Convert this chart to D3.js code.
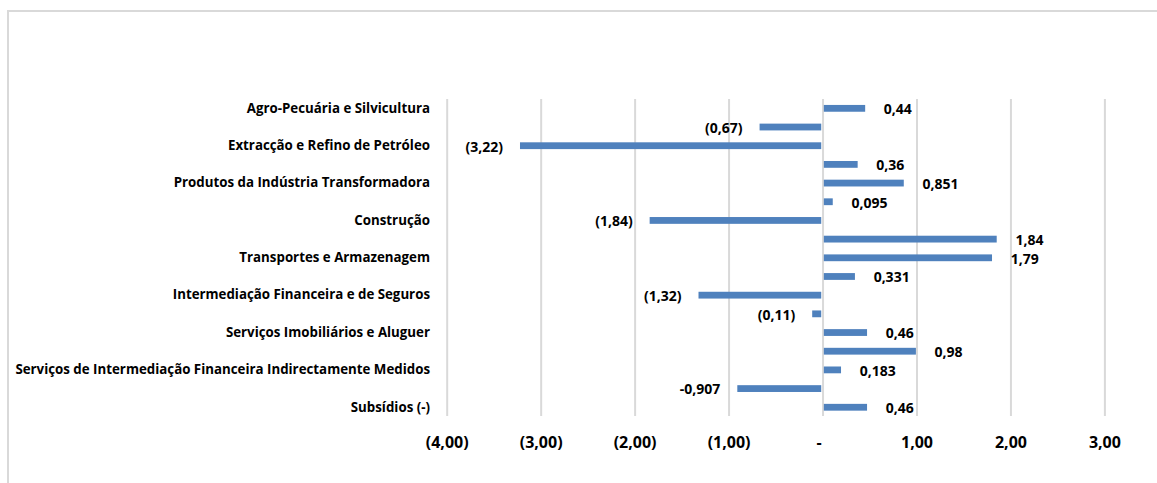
<!DOCTYPE html>
<html>
<head>
<meta charset="utf-8">
<script src="https://cdn.jsdelivr.net/npm/d3@7"></script>
<style>
  html, body { margin: 0; padding: 0; background: #fff; }
  svg { display: block; }
  text { font-family: "Open Sans", sans-serif; font-weight: bold; fill: #000; }
</style>
</head>
<body>
<svg id="chart" width="1157" height="483"></svg>
<script>
const categories = [
  "Agro-Pecuária e Silvicultura",
  "Pescas",
  "Extracção e Refino de Petróleo",
  "Diamantes e Outros Minerais",
  "Produtos da Indústria Transformadora",
  "Electricidade e Água",
  "Construção",
  "Comércio",
  "Transportes e Armazenagem",
  "Correios e Telecomunicações",
  "Intermediação Financeira e de Seguros",
  "Serviços da Administração Pública",
  "Serviços Imobiliários e Aluguer",
  "Outros Serviços",
  "Serviços de Intermediação Financeira Indirectamente Medidos",
  "Impostos sobre os Produtos",
  "Subsídios (-)"
];
const values = [0.44, -0.67, -3.22, 0.36, 0.851, 0.095, -1.84, 1.84, 1.79, 0.331, -1.32, -0.11, 0.46, 0.98, 0.183, -0.907, 0.46];
const valueLabels = ["0,44", "(0,67)", "(3,22)", "0,36", "0,851", "0,095", "(1,84)", "1,84", "1,79", "0,331", "(1,32)", "(0,11)", "0,46", "0,98", "0,183", "-0,907", "0,46"];
const tickValues = [-4, -3, -2, -1, 0, 1, 2, 3];
const tickLabels = ["(4,00)", "(3,00)", "(2,00)", "(1,00)", "-", "1,00", "2,00", "3,00"];

const svg = d3.select("#chart");

// chart border
svg.append("rect")
  .attr("x", 8).attr("y", 11)
  .attr("width", 1300).attr("height", 600)
  .attr("fill", "none").attr("stroke", "#d9d9d9").attr("stroke-width", 2);

const x = d3.scaleLinear().domain([-4, 3]).range([446.7, 1104.4]);
const y = d3.scaleBand().domain(categories).range([99, 416.6])
  .paddingInner(0.636).paddingOuter(0.318);

// gridlines via axis
const gridAxis = d3.axisBottom(x).tickValues(tickValues).tickSize(416 - 99).tickFormat("");
const grid = svg.append("g").attr("transform", "translate(0,99)").call(gridAxis);
grid.select(".domain").remove();
grid.selectAll(".tick line").attr("stroke", "#d9d9d9").attr("stroke-width", 2);

// x tick labels
const xAxis = d3.axisBottom(x).tickValues(tickValues).tickSize(0)
  .tickFormat((d, i) => tickLabels[i]);
const xg = svg.append("g").attr("transform", "translate(0,447.5)").call(xAxis);
xg.select(".domain").remove();
xg.selectAll(".tick text")
  .attr("y", 0)
  .attr("font-size", 16)
  .attr("font-family", "'Open Sans', sans-serif")
  .attr("font-weight", "bold")
  .attr("dy", "0")
  .attr("dx", d => d === 0 ? -4 : 0);

// category labels (every other shown)
const yAxis = d3.axisLeft(y).tickSize(0)
  .tickFormat((d, i) => i % 2 === 0 ? d : "");
const yg = svg.append("g").attr("transform", "translate(430,0)").call(yAxis);
yg.select(".domain").remove();
yg.selectAll(".tick text")
  .attr("x", 0)
  .attr("font-size", 13.3)
  .attr("font-family", "'Open Sans', sans-serif")
  .attr("font-weight", "bold");

// bars
svg.append("g").selectAll("rect")
  .data(values)
  .join("rect")
  .attr("x", d => d >= 0 ? x(0) + 1.3 : x(d))
  .attr("y", (d, i) => y(categories[i]))
  .attr("width", d => Math.max(1, Math.abs(x(d) - x(0)) - (d >= 0 ? 0 : 1.3)))
  .attr("height", y.bandwidth())
  .attr("fill", "#4f81bd");

// data labels
svg.append("g").selectAll("text")
  .data(values)
  .join("text")
  .attr("x", d => d >= 0 ? x(d) + 20 : x(d) - 17)
  .attr("y", (d, i) => y(categories[i]) + y.bandwidth() / 2 + 1)
  .attr("dy", "0.35em")
  .attr("text-anchor", d => d >= 0 ? "start" : "end")
  .attr("font-size", 14)
  .text((d, i) => valueLabels[i]);
</script>
</body>
</html>
